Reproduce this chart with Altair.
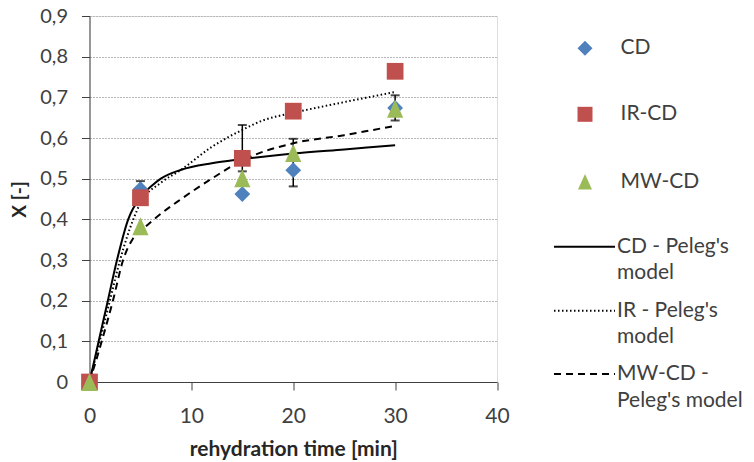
import altair as alt
import pandas as pd

# ---------------- data ----------------
t_obs = [0, 5, 15, 20, 30]
x_cd = [0.0, 0.474, 0.462, 0.521, 0.674]
x_ir = [0.0, 0.453, 0.550, 0.666, 0.764]
x_mw = [0.0, 0.383, 0.501, 0.563, 0.672]

t_cd_model = [0, 0.9, 1.8, 2.7, 3.8, 5, 6, 7, 9, 12, 15, 20, 25, 30]
x_cd_model = [0, 0.10, 0.20, 0.30, 0.40, 0.455, 0.48, 0.50, 0.522, 0.538, 0.548, 0.562, 0.572, 0.582]

t_ir_model = [0, 1, 2, 3, 4.3, 5, 7, 9, 12, 15, 17, 20, 23, 30]
x_ir_model = [0, 0.10, 0.20, 0.30, 0.40, 0.44, 0.49, 0.522, 0.578, 0.62, 0.643, 0.662, 0.678, 0.713]

t_mw_model = [0, 1.2, 2.3, 3.3, 4.2, 5, 6, 9, 12, 15, 20, 25, 30]
x_mw_model = [0, 0.10, 0.20, 0.30, 0.35, 0.37, 0.393, 0.45, 0.50, 0.545, 0.587, 0.607, 0.63]

err_t = [5, 15, 20, 30]
err_lo = [0.455, 0.518, 0.481, 0.643]
err_hi = [0.494, 0.632, 0.598, 0.705]

x_ticks = [0, 10, 20, 30, 40]
y_ticks = [0, 0.1, 0.2, 0.3, 0.4, 0.5, 0.6, 0.7, 0.8, 0.9]

marker_labels = ["CD", "IR-CD", "MW-CD"]
line_labels = [["CD - Peleg's", "model"], ["IR - Peleg's", "model"], ["MW-CD -", "Peleg's model"]]

# ---------------- styling ----------------
BLUE = "#4F81BD"
RED = "#C0504D"
GREEN = "#9BBB59"
FONT = "Lato"
TXT = "#404040"
TRI = "M0,-1L-0.9,1L0.9,1Z"
FS = 21

W, H = 407.5, 366

xenc = alt.X(
    "t:Q",
    scale=alt.Scale(domain=[0, 40], nice=False, zero=False),
    axis=alt.Axis(
        values=x_ticks, title="rehydration time [min]", grid=False, labelFlush=False,
        tickSize=8, labelPadding=26, labelBaseline="middle", labelFontSize=FS,
        labelColor=TXT, titleFontSize=21, titleFontWeight="bold", titleColor="#262626",
        titleX=W / 2, titleY=67, titleBaseline="middle", titleAlign="center",
        domainColor="#404040", tickColor="#404040", labelFont=FONT, titleFont=FONT,
    ),
)
yenc = alt.Y(
    "v:Q",
    scale=alt.Scale(domain=[0, 0.9], nice=False, zero=True),
    axis=alt.Axis(
        values=y_ticks, title="X [-]", grid=True, gridColor="#b8b8b8", gridDash=[2, 1],
        tickSize=8, labelPadding=14, labelFontSize=20, labelColor=TXT, labelFlush=False,
        labelBaseline="middle",
        labelExpr="datum.value == 0 ? '0' : replace(format(datum.value, '.1f'), '.', ',')",
        titleFontSize=19, titleFontWeight="bold", titleColor="#262626",
        titleX=-70, titleY=H / 2, titleAngle=-90, titleBaseline="middle", titleAlign="center",
        domainColor="#404040", tickColor="#404040", labelFont=FONT, titleFont=FONT,
    ),
)

def df(t, v):
    return pd.DataFrame({"t": t, "v": v})

lines = [
    alt.Chart(df(t_cd_model, x_cd_model)).mark_line(color="black", strokeWidth=2, interpolate="monotone"),
    alt.Chart(df(t_ir_model, x_ir_model)).mark_line(color="black", strokeWidth=2, strokeDash=[1.5, 2.5], interpolate="monotone"),
    alt.Chart(df(t_mw_model, x_mw_model)).mark_line(color="black", strokeWidth=2, strokeDash=[7, 5], interpolate="monotone"),
]
lines = [c.encode(x=xenc, y=yenc) for c in lines]

err_df = pd.DataFrame({"t": err_t, "v": err_lo, "v2": err_hi})
err_rule = alt.Chart(err_df).mark_rule(color="black", strokeWidth=1.5).encode(x=xenc, y=yenc, y2="v2:Q")
err_lo_tick = alt.Chart(err_df).mark_tick(color="black", orient="horizontal", size=9, thickness=2).encode(x=xenc, y=yenc)
err_hi_tick = alt.Chart(err_df).mark_tick(color="black", orient="horizontal", size=9, thickness=2).encode(
    x=xenc, y=alt.Y("v2:Q"))

pts_cd = alt.Chart(df(t_obs, x_cd)).mark_point(shape="diamond", filled=True, size=250, color=BLUE, opacity=1).encode(x=xenc, y=yenc)
pts_ir = alt.Chart(df(t_obs, x_ir)).mark_point(shape="square", filled=True, size=280, color=RED, opacity=1).encode(x=xenc, y=yenc)
pts_mw = alt.Chart(df(t_obs, x_mw)).mark_point(shape=TRI, filled=True, size=324, color=GREEN, opacity=1).encode(x=xenc, y=yenc)

# ---------------- legend (drawn manually) ----------------
one = pd.DataFrame({"a": [0]})
legend = []
marker_specs = [("diamond", BLUE, 225), ("square", RED, 225), (TRI, GREEN, 240)]
marker_y = [32.3, 98.3, 165.7]
for (shape, col, sz), lab, yy in zip(marker_specs, marker_labels, marker_y):
    legend.append(alt.Chart(one).mark_point(shape=shape, filled=True, size=sz, color=col, opacity=1).encode(
        x=alt.value(495.5), y=alt.value(yy)))
    legend.append(alt.Chart(one).mark_text(text=lab, align="left", baseline="middle", fontSize=FS, font=FONT, color=TXT).encode(
        x=alt.value(531), y=alt.value(yy)))

dashes = [None, [1.5, 2.5], [7, 5]]
line_y = [230.7, 294.7, 358.0]
for dash, labs, yy in zip(dashes, line_labels, line_y):
    kw = dict(color="black", strokeWidth=2)
    if dash is not None:
        kw["strokeDash"] = dash
    legend.append(alt.Chart(one).mark_rule(**kw).encode(x=alt.value(464.5), x2=alt.value(525.5), y=alt.value(yy)))
    for i, lab in enumerate(labs):
        legend.append(alt.Chart(one).mark_text(text=lab, align="left", baseline="middle", fontSize=FS, font=FONT, color=TXT).encode(
            x=alt.value(527.5), y=alt.value(yy + 26.7 * i)))

chart = alt.layer(*lines, err_rule, err_lo_tick, err_hi_tick, pts_cd, pts_ir, pts_mw, *legend).properties(
    width=W, height=H,
    autosize=alt.AutoSizeParams(type="none"),
    padding={"left": 81.5, "top": 8, "right": 249, "bottom": 80},
).configure_view(stroke="#404040", strokeWidth=1).configure(background="white")

chart.save("out.html", embed_options={"renderer": "svg", "actions": False})
